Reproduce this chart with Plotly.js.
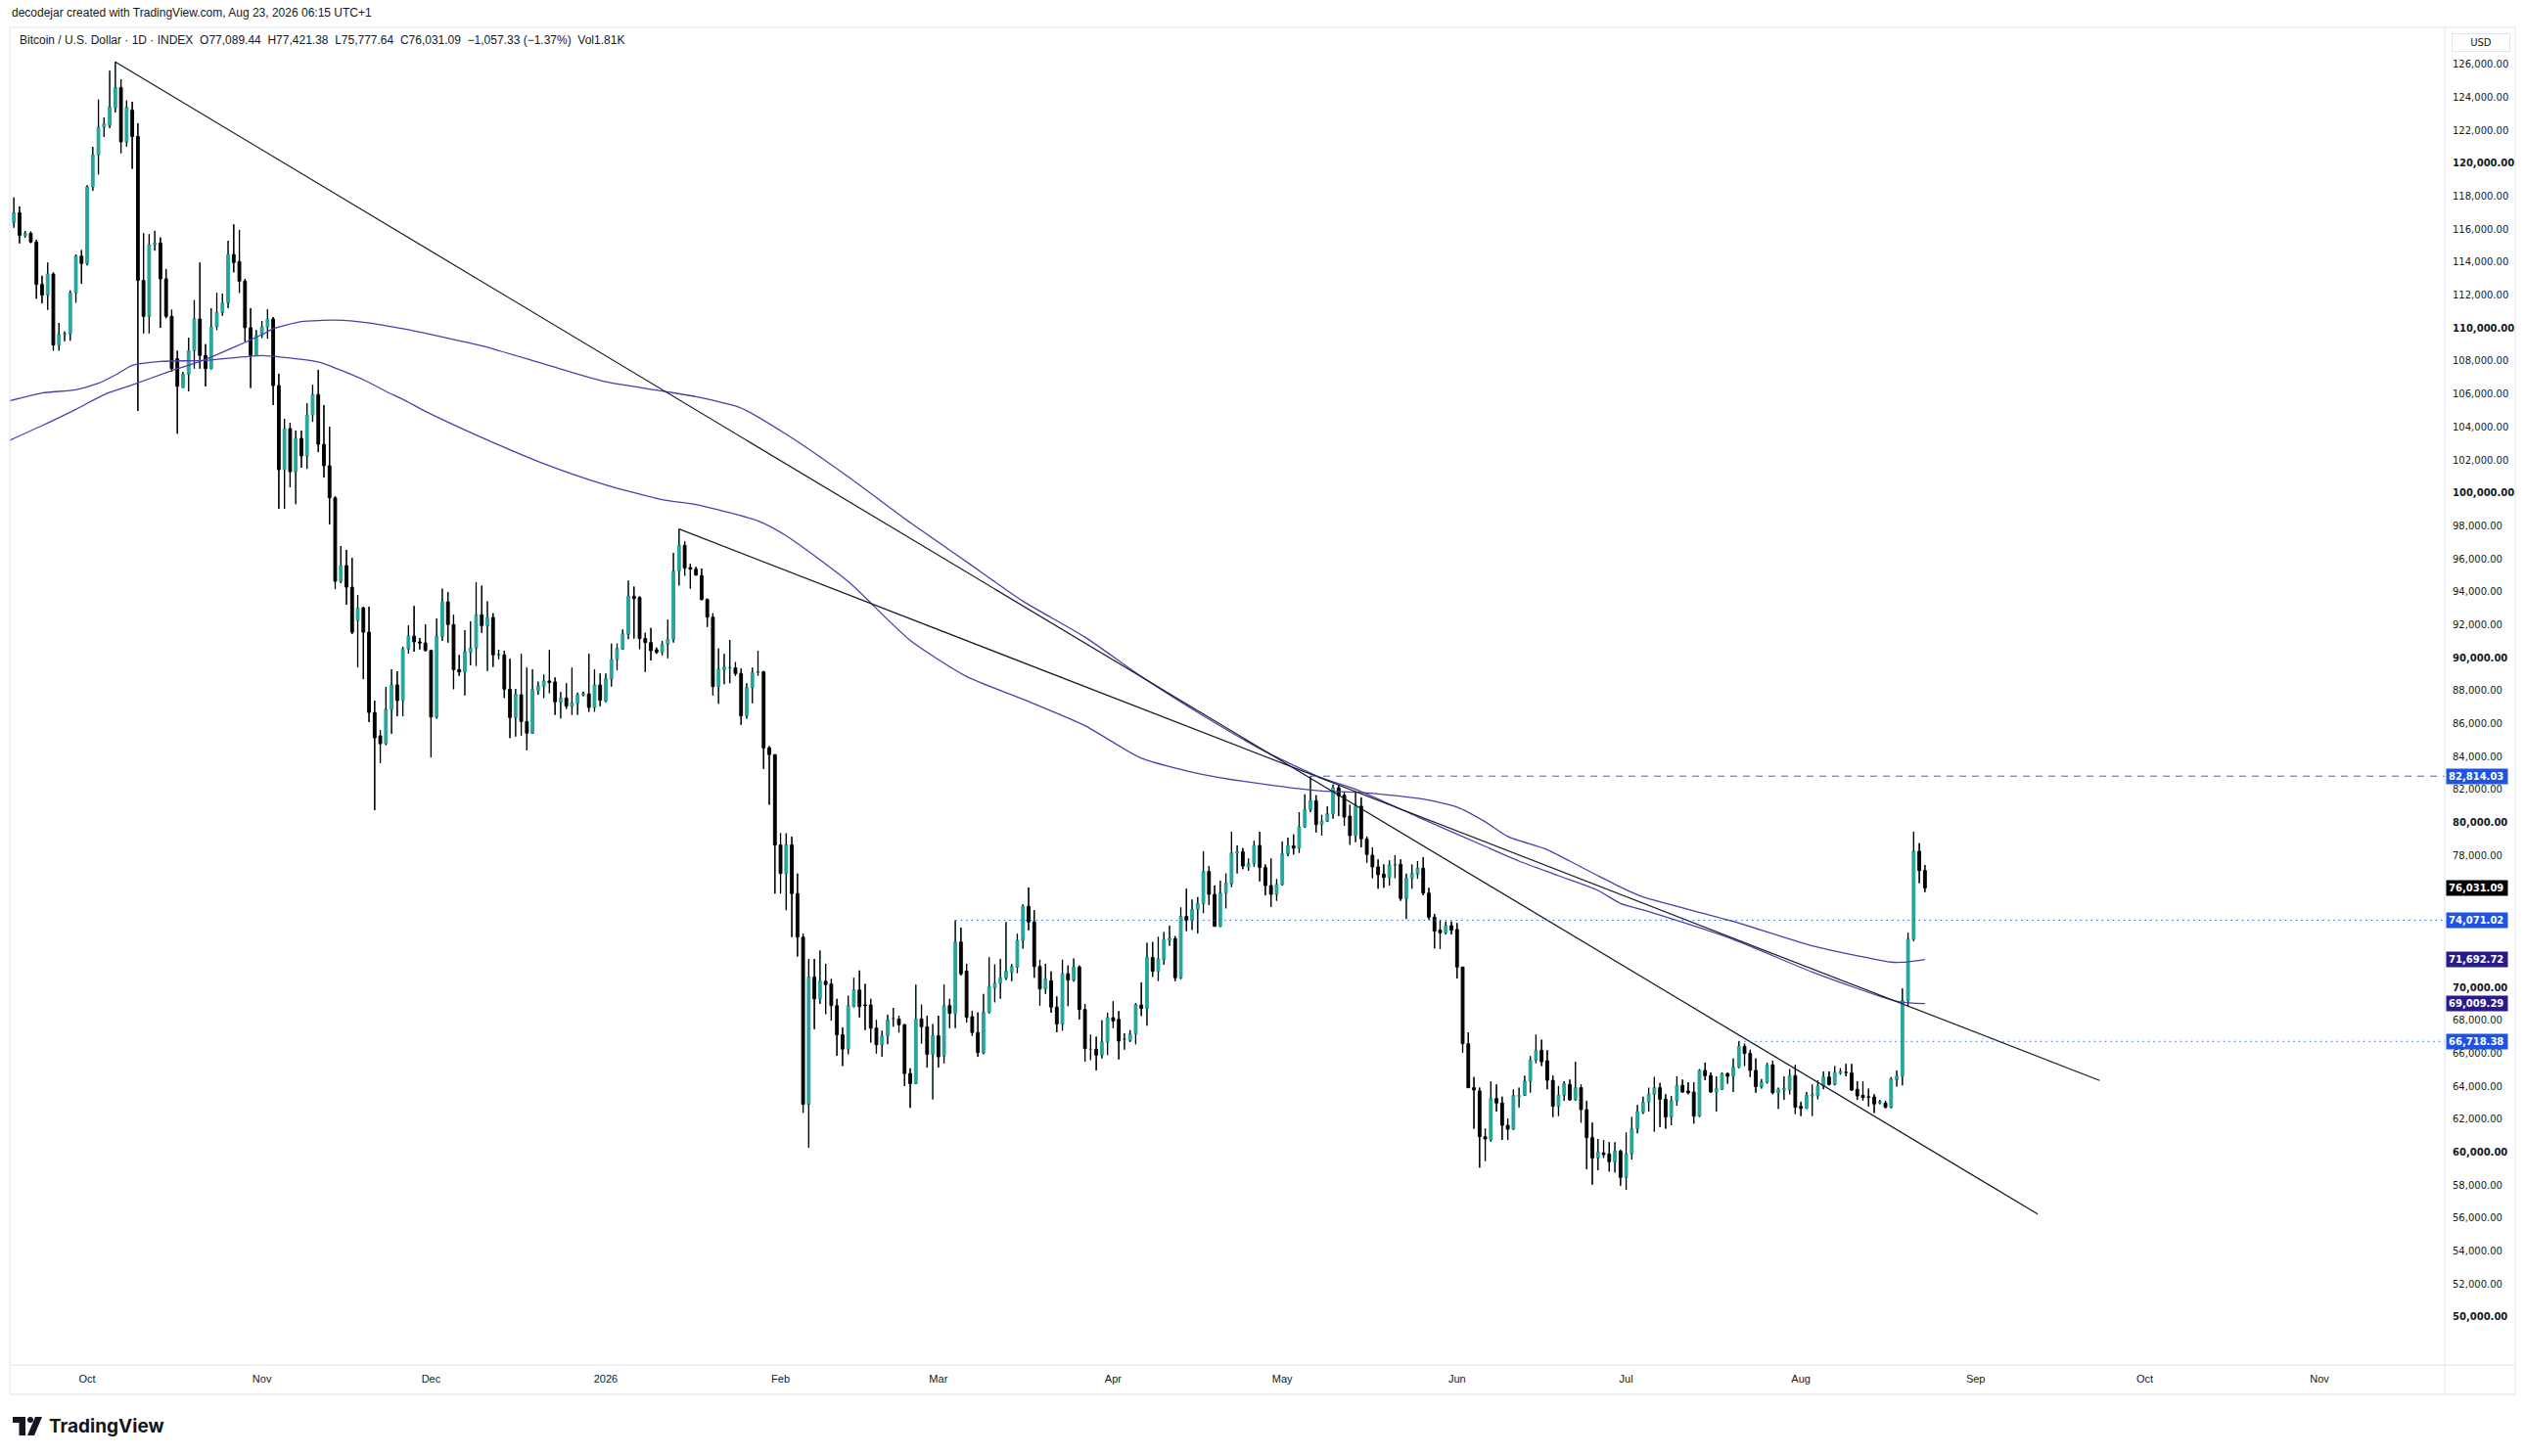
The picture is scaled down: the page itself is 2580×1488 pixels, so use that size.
<!DOCTYPE html>
<html><head><meta charset="utf-8">
<script src="https://cdn.plot.ly/plotly-3.0.1.min.js"></script>
<style>html,body{margin:0;padding:0;background:#fff}#chart{width:2580px;height:1488px}</style>
</head><body><div id="chart"></div>
<script>
// ---------- DATA (daily candles, 2025-09-18 .. 2026-08-23) ----------
const firstCandleDate = '2025-09-18';
const opens = [
116410,117000,115620,115750,115220,112650,112000,113280,108970,109620,109650,112140,114370,
113920,118570,120510,122190,122290,123380,124600,121300,123220,121630,112890,110710,115060,115160,112990,110710,108140,106400,107190,108630,110550,108340,107540,110080,110950,111540,114470,114040,112850,110020,108340,
109560,110080,110550,106510,101410,103900,101290,103310,102240,104730,105970,102950,101650,99700,94640,95590,94280,92270,93020,91550,86680,85260,84780,86870,88350,87400,90530,91310,90960,90900,
90440,86400,91300,93390,92010,89280,89140,90330,90580,92600,91950,92440,90170,90170,88090,86370,87750,86130,85420,88010,88250,88590,88530,87320,87560,87060,87220,87750,87810,86980,88350,
87360,88700,89890,90520,91420,93730,93650,91160,90920,90490,90330,90820,91120,95270,96820,95470,95370,94980,93530,92460,88250,89280,89380,89380,89040,86470,88190,89100,89140,84530,84120,
78640,76910,78640,75690,73050,62900,70620,69300,70370,70210,68890,67120,66250,68830,69840,68930,68930,67530,66510,67060,68080,68080,67730,64770,64160,68080,67610,65940,
67060,65840,68890,68420,72750,70980,68220,67260,66050,68480,69970,70250,70580,70920,71220,72850,74920,73970,71260,69900,70400,68800,67770,70830,70440,71230,68660,66240,66240,65890,66680,
68160,68060,66840,66780,67170,68920,68720,71820,70970,71690,72870,72950,70580,74300,74060,74730,75090,77030,75640,73700,75720,76280,78140,78220,77310,77500,78610,77270,76180,75640,
76240,78100,78590,78450,79740,80790,81320,79880,80080,80530,82110,81660,80390,79210,80990,79010,78020,77310,76870,76670,77420,77460,75390,76630,76870,77230,75720,74260,73470,73310,73740,
73510,71230,66580,63910,63710,60940,60740,63250,62980,61630,61390,63370,63450,64300,65590,66180,65550,64360,62780,63450,64110,63180,63910,62580,60880,59650,59950,59890,59420,60050,
58470,59890,61430,62420,63020,63510,63910,63210,62130,63120,64050,63710,63650,62190,64960,64640,63650,63810,64760,64600,65150,66420,65990,64960,63970,64240,65290,63610,63770,63770,64640,
62780,62660,63410,63410,64010,64560,64110,64800,64840,64800,63810,63450,63350,63350,62980,62980,62720,64400,64600,69190,72910,78260,77089.44
];
const highs = [
117930,117380,115900,115860,115360,113180,113980,113380,110310,109800,112290,114470,114730,
118670,121000,123870,122780,125610,126150,125100,123810,123730,122430,115760,115700,115900,115500,113580,111110,108630,107350,109420,111700,113980,109030,111210,112140,112100,115300,116290,115960,112990,111210,109880,
110430,111150,110670,107230,104500,104260,103780,103780,105450,106560,107460,105330,104020,99790,96780,96540,96060,93810,93100,93100,87400,85610,88230,89300,89180,90670,91960,93140,91200,92030,
90490,92380,94190,93990,92600,90170,91670,92210,94580,94380,93430,92700,90490,90430,89930,88110,90230,89400,89300,88550,88980,90470,88800,87910,88450,89400,87890,87950,90230,89300,89040,
89040,90860,90860,91710,94680,94320,93730,91510,91810,90620,91020,92310,96360,97810,97060,95710,95510,95410,93590,92700,90560,90230,91080,89730,89340,88450,89400,90420,89200,84630,84120,
79350,79350,79150,76910,73260,71730,71730,72240,71430,70510,69300,67570,69500,70580,71020,70210,69300,68020,67370,68340,68750,68280,67770,65090,70170,68950,68280,67770,
68280,70170,69300,74071,73620,71430,68580,68480,69600,71830,71390,71730,73970,71430,73260,75040,76060,74680,71670,71430,70970,69450,71680,71330,71760,71330,68990,67130,67010,68000,68460,
69150,68560,67210,67410,69050,70300,72710,72750,73070,73350,73740,73110,74850,75980,75330,75480,78260,77360,76180,76470,76910,79440,78610,78450,77820,78890,79440,77460,77820,76570,
78850,79090,79280,80630,81720,82814,81660,80470,80990,82310,82250,81860,81070,81860,81520,79150,78490,77760,77460,77700,78020,77760,76910,77460,77660,77900,76040,74460,74100,74000,74000,
73900,71230,67270,64560,63910,61430,64300,64110,63370,62030,63810,63910,64640,65830,67130,66820,66180,64640,64010,64300,64400,65490,64110,63120,61790,60800,60740,60600,60600,60150,
61200,62130,62860,63370,63910,64560,64200,63510,63410,64600,64400,64240,64240,65040,65430,64840,64600,64840,64840,65690,66718,66580,66220,65690,64440,65430,65550,63910,64600,65040,65290,
63060,63650,64110,64360,64900,64900,65230,65090,65350,65350,64300,64300,63850,63510,63180,63120,64560,64960,69940,73310,79440,78750,77421.38
];
const lows = [
116090,115140,115500,115160,111780,111500,111100,108630,108630,109200,109230,111540,112690,
113800,118330,119320,121590,122130,123080,120610,121000,119660,104970,109680,109680,114700,110020,110600,107350,103590,106360,106160,107540,107540,106460,107500,109880,110750,111210,113380,112140,109170,106360,108290,
109400,109360,105330,99030,99030,100340,99320,101530,101460,104310,102480,100930,98080,94160,94520,93210,91430,89410,88700,86090,80750,83600,84700,85380,86450,86450,90250,90370,90500,90370,
83950,86300,91020,90920,88090,88900,87710,89540,89500,91510,89200,89440,89900,87560,85120,85220,85280,84390,85380,87750,87560,87850,86530,86310,86900,86530,86530,87660,86720,86720,87060,
87300,88250,89240,90480,91120,91160,90520,89140,89830,90230,90130,89970,90920,94380,94980,94190,94980,93490,91870,87710,87200,88390,88450,88900,85930,86300,87230,88900,83250,81080,75690,
75690,74680,73050,71870,62390,60260,67470,68990,68380,67980,65840,65230,65940,68790,68180,67410,66650,65980,65780,66550,67610,67260,64010,62690,64120,66590,65130,63200,
65130,65380,67530,67530,70720,67870,67060,65780,65940,68420,69090,69300,70450,70370,70860,72340,73460,70580,68890,69600,68460,67270,67370,68860,70340,68060,65490,65590,64960,65690,65890,
67530,65630,66220,66680,66540,68260,67670,70640,70380,71370,72520,70380,70500,73410,73470,73270,74500,74990,73700,73660,74790,76080,76910,77170,77070,77310,76430,75580,74890,75250,
76180,77960,78060,78160,79680,80630,79400,79210,80040,80230,80390,79800,78650,78810,78490,77560,76630,75980,76040,76180,76630,75250,74140,75980,76600,75580,74100,72360,72320,73210,73210,
70540,66030,63900,61430,59060,59460,60640,62460,60740,60740,61350,62720,63410,63610,65390,65230,63810,62130,62190,63120,63120,63120,61790,58960,58030,58900,59650,58820,58760,57970,
57710,59550,61140,62320,62460,61240,61530,61430,61630,62820,63610,63510,61730,62130,64360,63610,62460,63770,64160,63650,65090,65230,64560,63610,63850,64160,63510,62620,63180,63500,62320,
62190,62620,62190,63210,63810,64050,64050,64700,64600,63710,63180,63120,62780,62380,62900,62660,62660,63970,64050,68850,72800,76320,75777.64
];
const closes = [
117000,115620,115750,115220,112650,112000,113280,108970,109620,109650,112140,114370,113920,
118570,120510,122190,122390,123420,124600,121300,123380,121630,112890,110710,115060,115160,112990,110710,107540,106460,107190,108630,110550,108340,107540,110080,110950,111540,114470,113980,112850,110020,108340,109560,
110080,110550,106510,101410,103900,101290,103310,102240,104730,105970,102950,101650,99700,94640,95590,94280,91550,93020,91550,86680,85140,84780,86870,88350,87400,90530,91310,90960,90900,90440,
86400,91300,93390,92010,89280,89140,90370,90580,92600,91950,92440,90170,90200,88090,86370,87790,86130,85420,88050,88290,88590,88490,87320,87560,87060,87260,87750,87810,86980,88350,87420,
88740,89890,90560,91450,93730,93590,91160,90920,90430,90330,90820,91120,95270,96820,95430,95370,95020,93530,92460,88250,89300,89420,89400,89040,86470,88190,89100,89140,84530,84120,78640,
76910,78640,75690,73050,62900,70620,69300,70370,70170,68890,67120,66250,68890,69840,68830,68900,67530,66510,67060,68020,68100,67730,64770,64160,68080,67610,65940,67060,
65780,68890,68420,72750,70820,68180,67260,66050,68480,70050,70250,70580,70980,71260,72850,74920,73970,71260,69900,70510,68800,67770,70830,70440,71230,68660,66280,66250,65890,66680,68160,
67960,66740,66860,67170,68950,68720,71820,70970,71720,72910,72970,70580,74300,74060,74730,75090,77030,75640,73700,75720,76320,78160,78220,77360,77500,78610,77270,76180,75640,76240,
78100,78590,78450,79740,80790,81320,79880,80080,80530,82110,81620,80330,79210,80990,79010,78060,77310,76830,76670,77420,77460,75390,76630,76910,77230,75720,74260,73410,73310,73740,73470,
71230,66580,63910,63770,60940,60800,63250,62980,61630,61390,63450,63450,64300,65590,66180,65490,64360,62780,63450,64160,63180,63910,62580,60880,59650,60010,59850,59420,60050,58470,
59890,61430,62460,63020,63510,63910,63210,62130,63120,64050,63650,63610,62190,64960,64640,63650,63850,64760,64600,65150,66420,65990,64960,63970,64240,65290,63610,63810,63850,64640,62720,
62660,63450,63470,64010,64560,64110,64840,64900,64840,63770,63410,63310,63340,62920,63060,62720,64440,64600,69190,72910,78260,77088.42,76031.09
];

// moving averages
const maFastDates = ['2025-09-17','2025-09-23','2025-09-29','2025-10-03','2025-10-06','2025-10-09','2025-10-14','2025-10-22','2025-11-01','2025-11-06','2025-11-11','2025-11-14','2025-11-19','2025-11-23','2025-11-26','2025-11-30','2025-12-10','2025-12-21','2026-01-01','2026-01-11','2026-01-17','2026-01-28','2026-02-02','2026-02-13','2026-02-24','2026-03-06','2026-03-16','2026-03-27','2026-04-06','2026-04-17','2026-04-28','2026-05-08','2026-05-15','2026-05-26','2026-06-01','2026-06-06','2026-06-10','2026-06-17','2026-06-21','2026-06-26','2026-06-30','2026-07-04','2026-07-20','2026-08-03','2026-08-17','2026-08-19','2026-08-23'];
const maFastValues = [105560,106060,106260,106650,107150,107740,107980,108040,108330,108180,107940,107580,106870,106160,105680,104950,103360,101770,100480,99590,99290,98300,97400,94620,91050,88860,87480,85880,83900,82910,82310,81910,81820,81420,80930,80040,79150,78350,77660,76770,76080,75480,74000,72520,71530,71520,71692.72];
const maSlowDates = ['2025-09-17','2025-09-23','2025-09-29','2025-10-04','2025-10-09','2025-10-15','2025-10-22','2025-11-01','2025-11-03','2025-11-08','2025-11-14','2025-11-20','2025-11-26','2025-12-01','2025-12-10','2025-12-21','2026-01-01','2026-01-11','2026-01-17','2026-01-25','2026-02-02','2026-02-13','2026-02-24','2026-03-06','2026-03-16','2026-03-27','2026-04-06','2026-04-17','2026-04-28','2026-05-08','2026-05-14','2026-05-27','2026-06-06','2026-06-12','2026-06-19','2026-06-26','2026-06-30','2026-07-05','2026-07-20','2026-08-03','2026-08-18','2026-08-23'];
const maSlowValues = [103150,104080,105070,105960,106550,107300,108100,109600,109960,110390,110480,110310,109960,109610,108920,107830,106740,106180,105840,105150,103560,100980,98200,95820,93430,91250,88860,86480,84300,82710,82020,80040,78550,77660,76770,75880,75090,74590,72910,70930,69150,69009.29];

// drawn trendlines
const trendADates = ['2025-10-06','2026-09-12'];
const trendAValues = [126150, 56240];
const trendBDates = ['2026-01-14','2026-09-23'];
const trendBValues = [97807, 64350];

// horizontal levels
const levelValues = [82814.03, 74071.02, 66718.38];
const levelStartDates = ['2026-05-06','2026-03-04','2026-07-21'];

// price scale tags
const tagValues = [82814.03, 76031.09, 74071.02, 71692.72, 69009.29, 66718.38];
const tagTexts  = ['82,814.03','76,031.09','74,071.02','71,692.72','69,009.29','66,718.38'];

// axis ticks
const monthTickDates = ['2025-10-01','2025-11-01','2025-12-01','2026-01-01','2026-02-01','2026-03-01','2026-04-01','2026-05-01','2026-06-01','2026-07-01','2026-08-01','2026-09-01','2026-10-01','2026-11-01'];
const monthTickLabels = ['Oct','Nov','Dec','2026','Feb','Mar','Apr','May','Jun','Jul','Aug','Sep','Oct','Nov'];
const priceTickMin = 50000, priceTickMax = 126000, priceTickStep = 2000;
const priceTicksHiddenByTags = [72000];

// ---------- STYLE ----------
const UP = '#26a69a', DOWN = '#000000', MA_COLOR = '#4a3fae', TREND = '#131722', LEVEL = '#2962ff';
const tagBg = ['#1e53e5','#000000','#1e53e5','#2a1b8c','#2a1b8c','#1e53e5'];
const levelDash = ['7px,6px','1.5px,4px','1.5px,4px'];
const X_RANGE = ['2025-09-17 06:40', '2026-11-23 05:00'];
const Y_RANGE = [47085, 128244];

// ---------- BUILD ----------
const DAY = 86400000;
const t0 = Date.parse(firstCandleDate + 'T00:00:00Z');
const dates = opens.map((_, i) => new Date(t0 + i * DAY).toISOString().slice(0, 10));

const wx = [], wy = [];
dates.forEach((d, i) => {
  const top = Math.max(opens[i], closes[i]), bot = Math.min(opens[i], closes[i]);
  wx.push(d, d, null, d, d, null);
  wy.push(highs[i], top, null, bot, lows[i], null);
});

const traces = [];
traces.push({type:'candlestick', x:dates, open:opens, high:highs, low:lows, close:closes,
  increasing:{line:{color:UP, width:1}, fillcolor:UP},
  decreasing:{line:{color:DOWN, width:1}, fillcolor:DOWN},
  whiskerwidth:0, hoverinfo:'skip', showlegend:false});
traces.push({type:'scatter', mode:'lines', x:wx, y:wy, connectgaps:false,
  line:{color:'#000', width:1.3}, hoverinfo:'skip', showlegend:false});
traces.push({type:'scatter', mode:'lines', x:maFastDates, y:maFastValues,
  line:{color:MA_COLOR, width:1.3, shape:'spline', smoothing:0.6}, hoverinfo:'skip', showlegend:false});
traces.push({type:'scatter', mode:'lines', x:maSlowDates, y:maSlowValues,
  line:{color:MA_COLOR, width:1.3, shape:'spline', smoothing:0.6}, hoverinfo:'skip', showlegend:false});
traces.push({type:'scatter', mode:'lines', x:trendADates, y:trendAValues,
  line:{color:TREND, width:1.2}, hoverinfo:'skip', showlegend:false});
traces.push({type:'scatter', mode:'lines', x:trendBDates, y:trendBValues,
  line:{color:TREND, width:1.2}, hoverinfo:'skip', showlegend:false});
levelValues.forEach((v, i) => {
  traces.push({type:'scatter', mode:'lines', x:[levelStartDates[i], X_RANGE[1]], y:[v, v],
    line:{color:LEVEL, width:1, dash:levelDash[i]}, hoverinfo:'skip', showlegend:false});
});

const priceTicks = [], priceTickText = [];
for (let v = priceTickMin; v <= priceTickMax; v += priceTickStep) {
  priceTicks.push(v);
  const s = v.toLocaleString('en-US', {minimumFractionDigits:2, maximumFractionDigits:2});
  if (priceTicksHiddenByTags.includes(v)) priceTickText.push('');
  else priceTickText.push(v % 10000 === 0 ? '<b>' + s + '</b>' : s);
}

// pixel -> paper helpers (plot area: x 10..2498, y 28..1395)
const L = 10, R = 2498, T = 28, B = 1395;
const px = x => (x - L) / (R - L);
const py = y => (B - y) / (B - T);

const frame = '#e0e3eb';
const shapes = [
  [10,28,2570,28],[10,28,10,1425],[2570,28,2570,1425],[2498,28,2498,1425],[10,1395,2570,1395],[10,1425,2570,1425]
].map(s => ({type:'line', xref:'paper', yref:'paper', x0:px(s[0]), y0:py(s[1]), x1:px(s[2]), y1:py(s[3]), line:{color:frame, width:1}}));
// TradingView logo mark
const logoPath = (pts) => 'M' + pts.map(p => px(p[0]) + ',' + py(p[1])).join(' L') + ' Z';
shapes.push({type:'path', xref:'paper', yref:'paper', path:logoPath([[13,1448],[26,1448],[26,1467],[19.5,1467],[19.5,1454],[13,1454]]), fillcolor:'#131722', line:{width:0}});
shapes.push({type:'circle', xref:'paper', yref:'paper', x0:px(28), y0:py(1448), x1:px(34), y1:py(1454), fillcolor:'#131722', line:{width:0}});
shapes.push({type:'path', xref:'paper', yref:'paper', path:logoPath([[36,1448],[43,1448],[35,1467],[28,1467]]), fillcolor:'#131722', line:{width:0}});

const annotations = [
  {xref:'paper', yref:'paper', x:px(10), y:py(13), xanchor:'left', yanchor:'middle', showarrow:false,
   text:'decodejar created with TradingView.com, Aug 23, 2026 06:15 UTC+1', font:{family:'Liberation Sans', size:12, color:'#131722'}},
  {xref:'paper', yref:'paper', x:px(18), y:py(41), xanchor:'left', yanchor:'middle', showarrow:false,
   text:'Bitcoin / U.S. Dollar · 1D · INDEX  O77,089.44  H77,421.38  L75,777.64  C76,031.09  −1,057.33 (−1.37%)  Vol1.81K', font:{family:'Liberation Sans', size:12, color:'#131722'}},
  {xref:'paper', yref:'paper', x:px(2535), y:py(44), xanchor:'center', yanchor:'middle', showarrow:false,
   text:'USD', font:{family:'DejaVu Sans', size:10, color:'#131722'}, bordercolor:frame, borderwidth:1, borderpad:3, bgcolor:'#fff', width:52},
  {xref:'paper', yref:'paper', x:px(48), y:py(1457), xanchor:'left', yanchor:'middle', showarrow:false,
   text:'<b>TradingView</b>', font:{family:'Inter', size:19, color:'#131722'}}
];
tagValues.forEach((v, i) => {
  annotations.push({xref:'paper', yref:'y', x:px(2499), y:v, xanchor:'left', yanchor:'middle', showarrow:false,
    text:'<b>' + tagTexts[i] + '</b>', font:{family:'DejaVu Sans', size:10, color:'#fff'},
    bgcolor:tagBg[i], borderpad:2, width:58, align:'left'});
});

const layout = {
  width:2580, height:1488,
  margin:{l:L, r:2580 - R, t:T, b:1488 - B},
  paper_bgcolor:'#fff', plot_bgcolor:'#fff',
  showlegend:false, hovermode:false,
  xaxis:{type:'date', range:X_RANGE, showgrid:false, zeroline:false, showline:false,
    rangeslider:{visible:false}, tickmode:'array', tickvals:monthTickDates, ticktext:monthTickLabels,
    ticks:'', ticklabelstandoff:6, tickfont:{family:'Liberation Sans', size:11, color:'#131722'}},
  yaxis:{side:'right', range:Y_RANGE, showgrid:false, zeroline:false, showline:false,
    tickmode:'array', tickvals:priceTicks, ticktext:priceTickText, ticks:'', ticklabelstandoff:7,
    tickfont:{family:'DejaVu Sans', size:10, color:'#131722'}},
  shapes:shapes, annotations:annotations
};

Plotly.newPlot('chart', traces, layout, {staticPlot:true, displayModeBar:false});
</script>
</body></html>
